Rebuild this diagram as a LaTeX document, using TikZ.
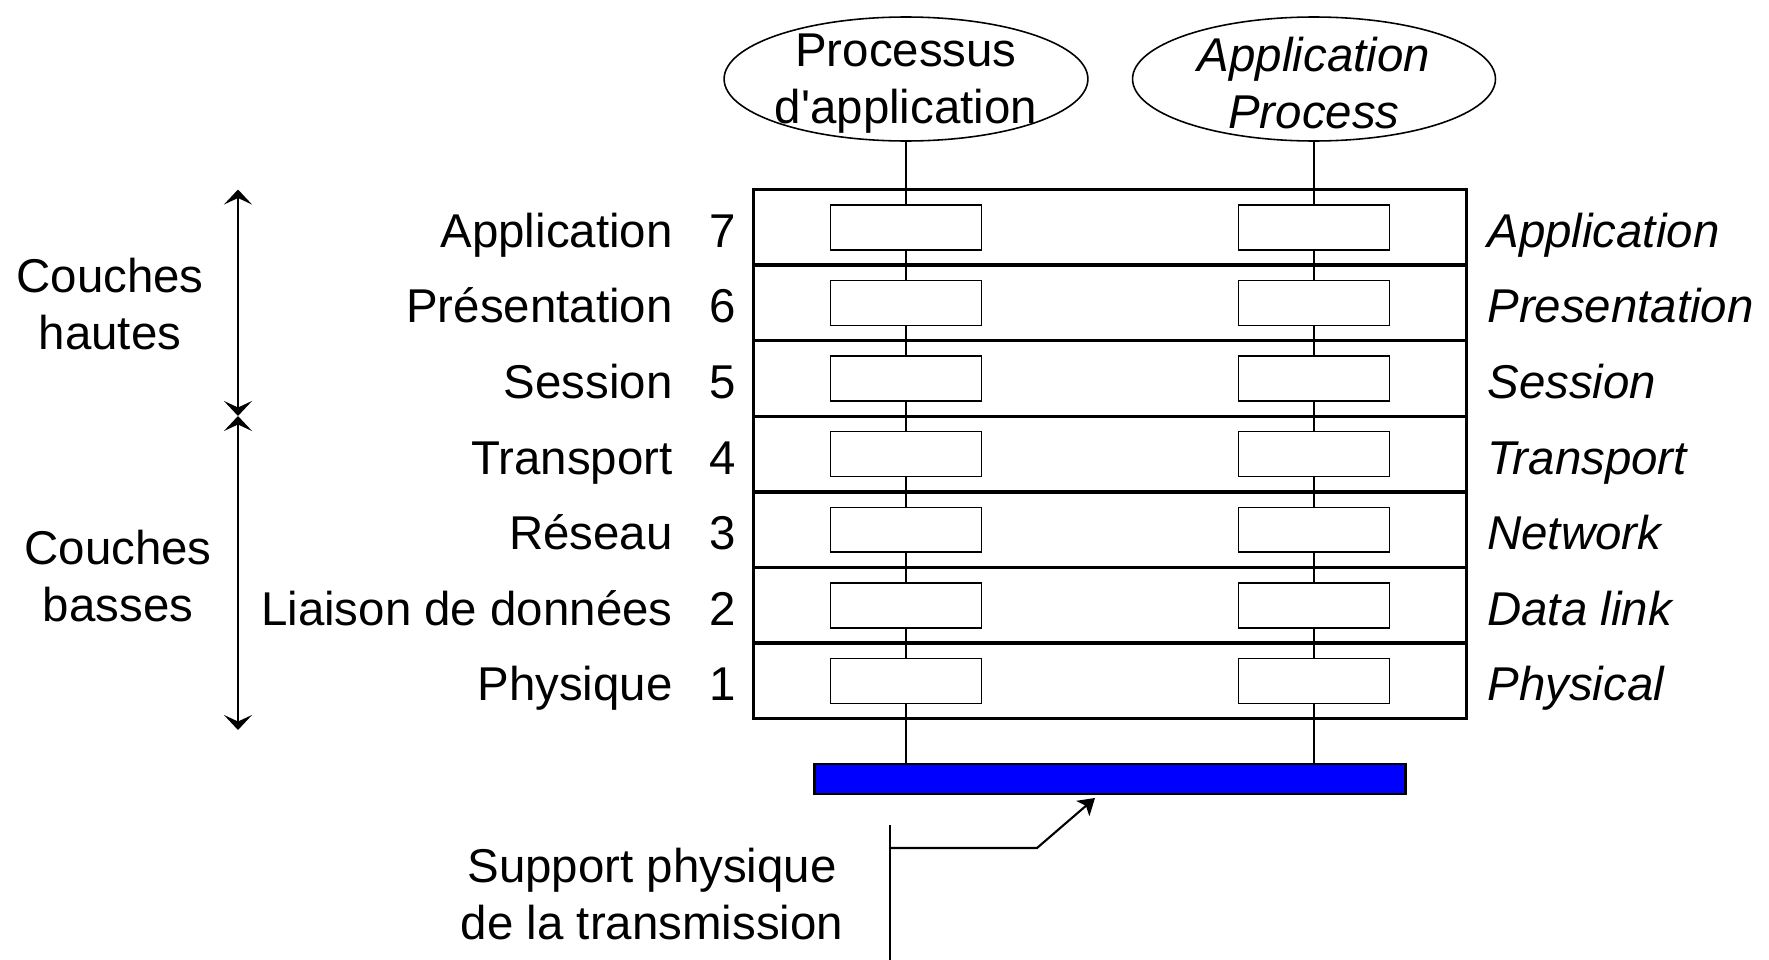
\documentclass[tikz,border=0pt]{standalone}
\usepackage{fontspec}
\setmainfont{Liberation Sans}
\newfontfamily\rawfont{Liberation Sans}
\usetikzlibrary{shapes.geometric,arrows.meta}
\newcommand\diagfont{\fontsize{27}{32.5}\selectfont}
\tikzset{
  layer/.style={draw, line width=1.9pt, minimum width=14.26cm, minimum height=1.512cm, inner sep=0pt},
  entity/.style={draw, fill=white, line width=0.8pt, minimum width=3.02cm, minimum height=0.9cm, inner sep=0pt},
  proc/.style={ellipse, draw, line width=0.9pt, minimum width=7.26cm, minimum height=2.48cm, inner xsep=-0.05cm, inner ysep=-0.22cm, align=center},
  lbl/.style={inner sep=0pt, text height=19.4pt, text depth=0pt},
  link/.style={line width=1.2pt},
  span/.style={line width=1.1pt, {Stealth[length=0.3cm, width=0.56cm, inset=0.13cm]}-{Stealth[length=0.3cm, width=0.56cm, inset=0.13cm]}},
}
\begin{document}
\begin{tikzpicture}[x=0.02cm, y=-0.02cm, font=\diagfont]
\useasboundingbox (0,0) rectangle (1769,960);

% the two processes
\node[proc] (pa) at (906,79) {\rule{0pt}{24pt}Processus\\d{\rawfont'}application};
\node[proc, font=\diagfont\itshape] (pb) at (1314,79) {\rule{0pt}{24pt}Application\\Process};

% the seven layers
\foreach \n/\fr/\en [count=\i from 0] in {7/Application/Application, 6/Présentation/Presentation, 5/Session/Session, 4/Transport/Transport, 3/Réseau/Network, 2/Liaison de données/Data link, 1/Physique/Physical}{
  \node[layer] (L\n) at (1110,{227.3+75.6*\i}) {};
  \node[entity] (a\n) at (906,{227.3+75.6*\i}) {};
  \node[entity] (b\n) at (1314,{227.3+75.6*\i}) {};
  \node[lbl, anchor=east] (f\n) at (673,{230.3+75.6*\i}) {\fr};
  \node[lbl] (n\n) at (723,{230.3+75.6*\i}) {\n};
  \node[lbl, anchor=west, font=\diagfont\itshape] (e\n) at (1487,{230.3+75.6*\i}) {\en};
}

% physical medium
\node[draw, fill=blue, line width=1.5pt, minimum width=11.82cm, minimum height=0.6cm, inner sep=0pt] (bar) at (1110,779) {};

\draw[link] (pa.south) -- (a7.north);
\draw[link] (pb.south) -- (b7.north);
\foreach \u/\d in {7/6,6/5,5/4,4/3,3/2,2/1}{
  \draw[link] (a\u.south) -- (a\d.north);
  \draw[link] (b\u.south) -- (b\d.north);
}
\draw[link] (a1.south) -- (a1.south |- bar.north);
\draw[link] (b1.south) -- (b1.south |- bar.north);

% upper and lower layers
\coordinate (hi) at (238,189.5);
\coordinate (mid) at (238,416);
\coordinate (lo) at (238,730);
\draw[span] (hi) -- (mid);
\draw[span] (mid) -- (lo);
\node[align=center] (hautes) at (110,304) {Couches\\hautes};
\node[align=center] (basses) at (118,576) {Couches\\basses};

% callout
\node[align=center] (sup) at (652,894) {Support physique\\de la transmission};
\coordinate (brt) at (890,825);
\coordinate (brb) at (890,960);
\coordinate (bend) at (1037,848);
\coordinate (tip) at (1095,798);
\draw[link] (brt) -- (brb);
\draw[link, -{Stealth[length=0.32cm, width=0.4cm, inset=0.08cm]}] (brt |- bend) -- (bend) -- (tip);
\end{tikzpicture}
\end{document}
